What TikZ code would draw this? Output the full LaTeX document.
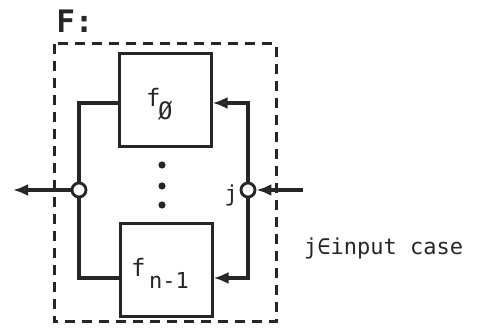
\documentclass[tikz,border=0pt]{standalone}
\usepackage{fontspec}
\usetikzlibrary{arrows.meta,calc}
\newfontfamily\tw{DejaVu Sans Mono}
\definecolor{ink}{HTML}{262626}
\definecolor{tip}{HTML}{4A4A4A}
\begin{document}
\begin{tikzpicture}[x=1pt,y=-1pt,
  wire/.style={draw=ink,line width=3.2pt},
  arr/.style={wire,-{Latex[length=15pt,width=12pt,fill=tip]}},
  fbox/.style={draw=ink,line width=3pt,minimum width=92pt,minimum height=93pt,inner sep=0pt},
  junc/.style={circle,draw=ink,line width=2.8pt,fill=white,minimum size=14pt,inner sep=0pt},
  frame/.style={draw=ink,line width=3pt,dash pattern=on 10pt off 7pt},
  lbl/.style={inner sep=0pt,text=ink}]
\useasboundingbox (0,0) rectangle (491,328);
% frame
\draw[frame] (54,44) rectangle (276,322);
% boxes
\node[fbox] (f0) at (165,100.5) {};
\node[fbox] (fn) at (166,270.5) {};
\node[lbl,anchor=base west] at (146,107) {\tw\fontsize{24}{24}\selectfont f};
\node[lbl,anchor=base west] at (158,120) {\tw\fontsize{24}{24}\selectfont Ø};
\node[lbl,anchor=base west] at (131,277) {\tw\fontsize{24}{24}\selectfont f};
\node[lbl,anchor=base west] at (149,289) {\tw\fontsize{22}{22}\selectfont n-1};
% junctions
\node[junc] (L) at (79,190) {};
\node[junc] (R) at (248,190) {};
\coordinate (out) at (13,190);
\coordinate (in) at (303,190);
% wires
\draw[wire] ($(f0.west)+(0,2.5)$) -| (L.north);
\draw[wire] ($(fn.west)+(0,7.5)$) -| (L.south);
\draw[arr] (R.north) |- ($(f0.east)+(0,2.5)$);
\draw[arr] (R.south) |- ($(fn.east)+(0,7.5)$);
\draw[arr] (in) -- (R.east);
\draw[arr] (L.west) -- (out);
% dots
\fill[ink] (162,165) circle (3.6pt) (162,186) circle (3.6pt) (162,205) circle (3.6pt);
% labels
\node[lbl,anchor=base] (F) at (75,33) {\tw\bfseries\fontsize{31}{31}\selectfont F:};
\node[lbl,anchor=base east] (jl) at (238,202) {\tw\fontsize{22}{22}\selectfont j};
\node[lbl,anchor=base west] (cap) at (304,255) {\tw\fontsize{22}{22}\selectfont j∈input case};
\end{tikzpicture}
\end{document}
